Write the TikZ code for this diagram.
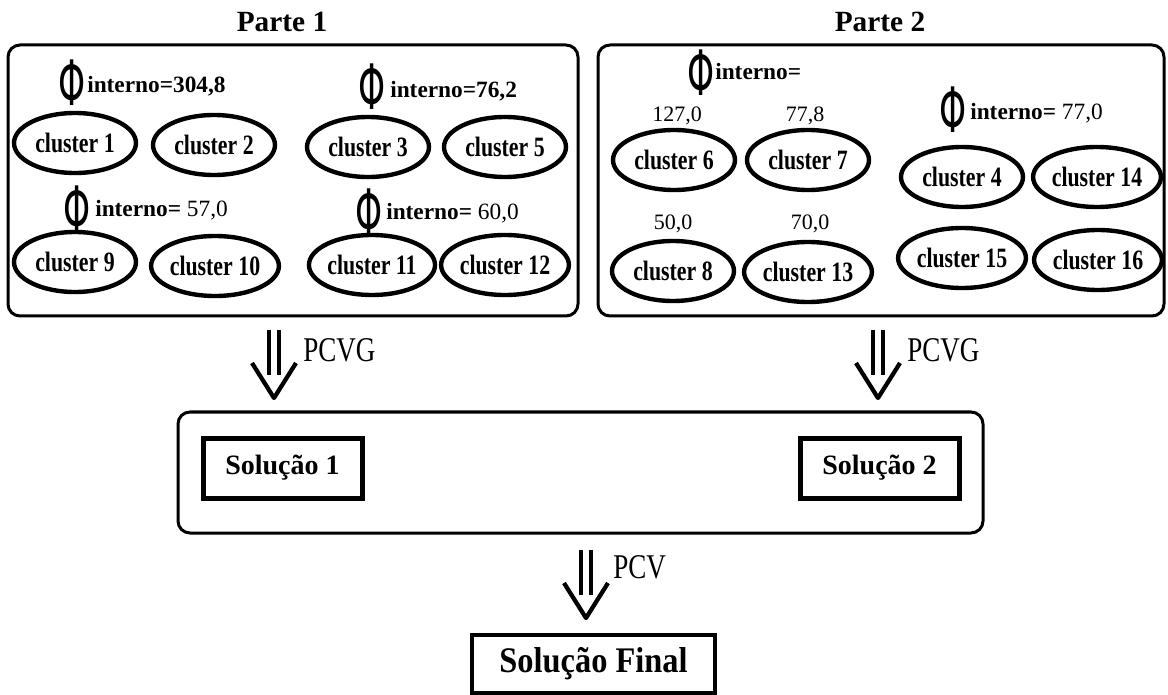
\documentclass[tikz,border=0pt]{standalone}
\usepackage{fontspec}
\setmainfont{Liberation Serif}
\newfontfamily\clfont[FakeStretch=0.78]{Liberation Serif}
\newfontfamily\finfont[FakeStretch=0.9]{Liberation Serif}
\newfontfamily\phifont{DejaVu Sans}
\usetikzlibrary{shapes.geometric}
\tikzset{
 panel/.style={draw,line width=2.25pt,rounded corners=9pt,inner sep=0pt},
 clus/.style={ellipse,draw,line width=3.3pt,minimum width=91.5pt,minimum height=45pt,inner sep=0pt,font=\clfont\bfseries\fontsize{21}{21}\selectfont},
 solbox/.style={draw,line width=3.75pt,minimum width=119.25pt,minimum height=45pt,inner sep=0pt,font=\bfseries\fontsize{21}{21}\selectfont},
 finbox/.style={draw,line width=3pt,minimum width=182.25pt,minimum height=43.5pt,inner sep=0pt,font=\finfont\bfseries\fontsize{27}{27}\selectfont},
 phisym/.style={inner sep=0pt,font=\phifont\fontsize{47}{47}\selectfont},
 intlbl/.style={anchor=base west,inner sep=0pt,font=\bfseries\fontsize{17.5}{17.5}\selectfont},
 numlbl/.style={inner sep=0pt,font=\fontsize{16.5}{16.5}\selectfont},
 parttitle/.style={inner sep=0pt,font=\bfseries\fontsize{22}{22}\selectfont},
 steplbl/.style={anchor=base west,inner sep=0pt,font=\clfont\fontsize{26}{26}\selectfont},
 dblarrow/.pic={
  \draw[line width=2.4pt] (-5,0) -- (-5,45) (5,0) -- (5,45);
  \draw[line width=3.2pt,line join=round] (-22,33) -- (0,68) -- (22,33);
 }
}
\newcommand{\phig}{\scalebox{0.55}[1]{Φ}}
\newcommand{\plain}[1]{{\mdseries\fontsize{17.5}{17.5}\selectfont #1}}
\begin{document}
\begin{tikzpicture}[x=0.75pt,y=-0.75pt]
\useasboundingbox (0,0) rectangle (1168,695);
\node[parttitle] (t1) at (282,22) {Parte 1};
\node[parttitle] (t2) at (880,22) {Parte 2};
\node[panel,minimum width=427.5pt,minimum height=203.25pt] (p1) at (293,180.5) {};
\node[panel,minimum width=424.5pt,minimum height=203.25pt] (p2) at (881,180.5) {};

\node[phisym] (f1) at (72,82.5) {\phig};
\node[intlbl] (i1) at (87,93) {interno=304,8};
\node[phisym] (f2) at (372,86.5) {\phig};
\node[intlbl] (i2) at (390,98) {interno=76,2};
\node[phisym] (f3) at (77,208.5) {\phig};
\node[intlbl] (i3) at (95,217) {interno= \plain{57,0}};
\node[phisym] (f4) at (369,211.5) {\phig};
\node[intlbl] (i4) at (386,220) {interno= \plain{60,0}};

\node[clus] (c1) at (75,143) {cluster 1};
\node[clus] (c2) at (214,145) {cluster 2};
\node[clus] (c3) at (368,147) {cluster 3};
\node[clus] (c5) at (505,147) {cluster 5};
\node[clus] (c9) at (75,262) {cluster 9};
\node[clus] (c10) at (215,266) {cluster 10};
\node[clus] (c11) at (372,265) {cluster 11};
\node[clus] (c12) at (505,265) {cluster 12};

\node[phisym] (f5) at (701,73) {\phig};
\node[intlbl] (i5) at (715,80) {interno=};
\node[numlbl] (n1) at (677,116) {127,0};
\node[numlbl] (n2) at (805,116) {77,8};
\node[numlbl] (n3) at (673,224) {50,0};
\node[numlbl] (n4) at (810,224) {70,0};
\node[phisym] (f6) at (953,110) {\phig};
\node[intlbl] (i6) at (970,120) {interno= \plain{77,0}};

\node[clus] (c6) at (674,160) {cluster 6};
\node[clus] (c7) at (808,160) {cluster 7};
\node[clus] (c8) at (673,271) {cluster 8};
\node[clus] (c13) at (808,272) {cluster 13};
\node[clus] (c4) at (962,177) {cluster 4};
\node[clus] (c14) at (1097,177) {cluster 14};
\node[clus] (c15) at (962,258) {cluster 15};
\node[clus] (c16) at (1098,260) {cluster 16};

\node[panel,minimum width=603.75pt,minimum height=90.75pt] (mid) at (580.5,472.5) {};
\node[solbox] (s1) at (282.5,468) {Solução 1};
\node[solbox] (s2) at (879.5,468) {Solução 2};
\node[finbox] (fin) at (593.5,664) {Solução Final};

\coordinate (a1) at (274,330);
\coordinate (a2) at (878,330);
\coordinate (a3) at (586,550);
\pic at (a1) {dblarrow};
\pic at (a2) {dblarrow};
\pic at (a3) {dblarrow};
\node[steplbl] (l1) at (303,362) {PCVG};
\node[steplbl] (l2) at (907,362) {PCVG};
\node[steplbl] (l3) at (613,578) {PCV};
\end{tikzpicture}
\end{document}
